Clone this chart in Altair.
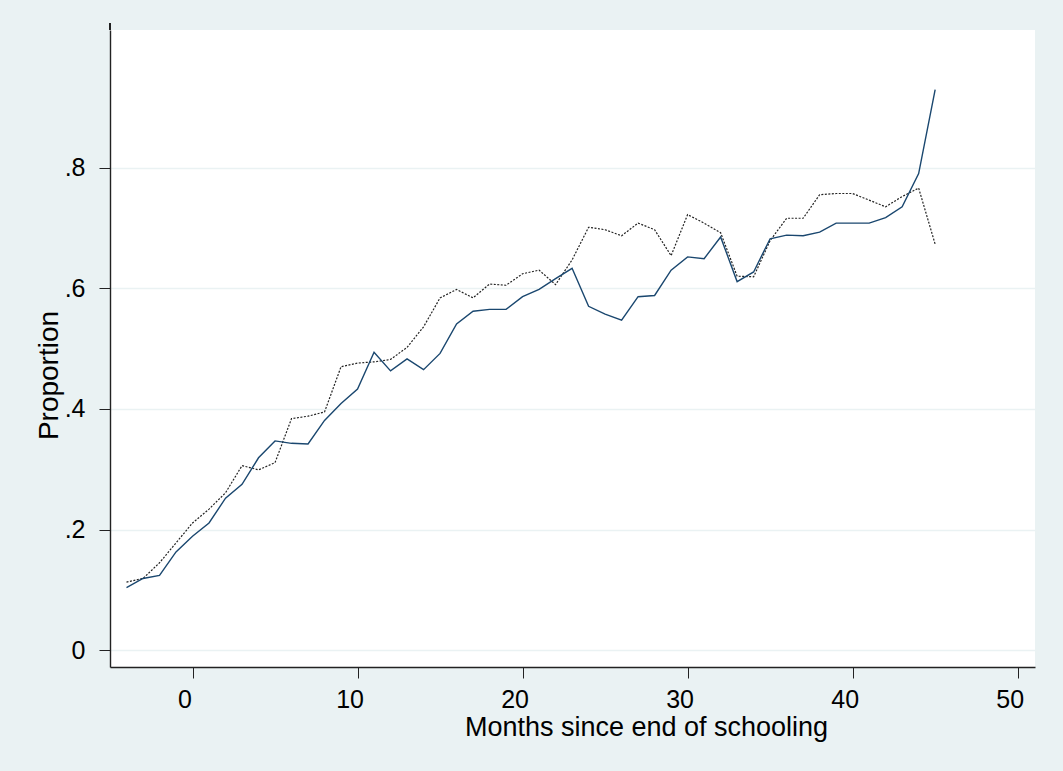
import altair as alt
import pandas as pd

# Months relative to the end of schooling
months = list(range(-4, 46))

# Proportion for each group, one value per month
solid_series = [
    0.104, 0.119, 0.124, 0.163, 0.189, 0.211, 0.252, 0.275, 0.319, 0.347,
    0.343, 0.342, 0.381, 0.409, 0.433, 0.494, 0.463, 0.483, 0.465, 0.492,
    0.541, 0.562, 0.565, 0.565, 0.586, 0.598, 0.616, 0.633, 0.570, 0.557,
    0.547, 0.586, 0.588, 0.630, 0.652, 0.649, 0.685, 0.611, 0.627, 0.682,
    0.688, 0.687, 0.693, 0.708, 0.708, 0.708, 0.717, 0.735, 0.790, 0.929,
]
dotted_series = [
    0.113, 0.119, 0.145, 0.178, 0.211, 0.234, 0.261, 0.306, 0.299, 0.311,
    0.384, 0.388, 0.395, 0.470, 0.476, 0.478, 0.482, 0.502, 0.536, 0.584,
    0.598, 0.584, 0.607, 0.605, 0.624, 0.630, 0.606, 0.647, 0.701, 0.697,
    0.687, 0.708, 0.697, 0.654, 0.722, 0.708, 0.692, 0.620, 0.619, 0.679,
    0.716, 0.716, 0.755, 0.757, 0.757, 0.746, 0.735, 0.752, 0.766, 0.673,
]

x_ticks = [0, 10, 20, 30, 40, 50]
y_ticks = [0, 0.2, 0.4, 0.6, 0.8]

df = pd.DataFrame({
    "month": months * 2,
    "value": solid_series + dotted_series,
    "group": ["solid"] * len(months) + ["dotted"] * len(months),
})

FONT = "Liberation Sans"
BG = "#eaf2f3"
AXIS = "#222222"

x_enc = alt.X(
    "month:Q",
    scale=alt.Scale(domain=[-5, 51.05], nice=False, zero=False),
    axis=alt.Axis(
        values=x_ticks, grid=False, title="Months since end of schooling",
        labelFontSize=25, titleFontSize=27, labelFont=FONT, titleFont=FONT,
        labelColor="black", titleColor="black", labelOffset=-8,
        tickSize=11, labelPadding=9, domainColor=AXIS, tickColor=AXIS,
        domainWidth=1.4, tickWidth=1, titleFontWeight="normal",
        titleX=536, titleY=68, titleBaseline="alphabetic",
        titleAlign="center", labelFlush=False,
    ),
)
y_enc = alt.Y(
    "value:Q",
    scale=alt.Scale(domain=[-0.0277, 1.028], nice=False, zero=False),
    axis=alt.Axis(
        values=y_ticks, grid=True, gridColor=BG, gridWidth=1.5,
        labelExpr="datum.value == 0 ? '0' : replace(format(datum.value, '.1f'), '0.', '.')",
        title="Proportion", labelFontSize=25, titleFontSize=28,
        labelFont=FONT, titleFont=FONT, labelColor="black", titleColor="black",
        tickSize=11, labelPadding=14, domainColor=AXIS, tickColor=AXIS,
        domainWidth=1.4, tickWidth=1, titleFontWeight="normal",
        titleAngle=-90, titleX=-53, titleY=345, titleAlign="center",
        titleBaseline="alphabetic", labelFlush=False,
    ),
)

dotted = alt.Chart(df).transform_filter(alt.datum.group == "dotted").mark_line(
    color="#222222", strokeWidth=1.2, strokeDash=[2, 1.5]
).encode(x=x_enc, y=y_enc)

solid = alt.Chart(df).transform_filter(alt.datum.group == "solid").mark_line(
    color="#1a476f", strokeWidth=1.4
).encode(x=x_enc, y=y_enc)

# left axis line runs a little above the plot region
axis_stub = alt.Chart(df).mark_rule(color=AXIS, strokeWidth=1.4).encode(
    x=alt.value(0), y=alt.value(-7), y2=alt.value(0)
)

chart = (
    alt.layer(dotted, solid, axis_stub)
    .properties(
        width=925, height=637,
        padding={"left": 110, "top": 30, "right": 28, "bottom": 104},
        autosize=alt.AutoSizeParams(type="none"),
        background=BG,
    )
    .configure_view(fill="white", strokeWidth=0)
)

chart.save("out.html", embed_options={"renderer": "svg", "actions": False})
